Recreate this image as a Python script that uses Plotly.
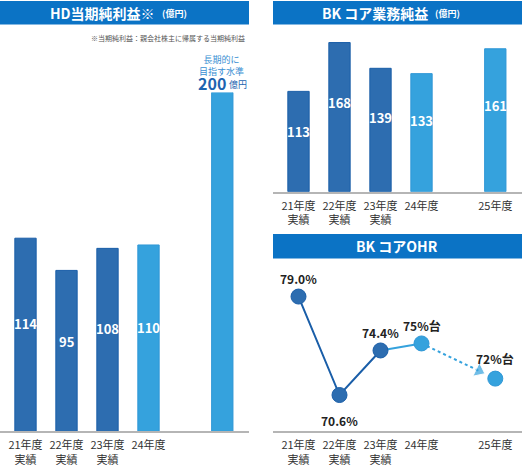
import plotly.graph_objects as go

# HD net income (100M yen)
hd_labels = ["21年度<br>実績", "22年度<br>実績", "23年度<br>実績", "24年度"]
hd_values = [114, 95, 108, 110]
hd_target = 200

# BK core business net profit (100M yen)
bk_labels = ["21年度<br>実績", "22年度<br>実績", "23年度<br>実績", "24年度", "25年度"]
bk_values = [113, 168, 139, 133, 161]

# BK core OHR (%)
ohr_values = [79.0, 70.6, 74.4, 75.0, 72.0]
ohr_text = ["79.0%", "70.6%", "74.4%", "75%台", "72%台"]

x_pos = [0, 1, 2, 3, 4.8]

DARK = "#2d6db0"
DARK_LINE = "#1a5ea8"
LIGHT = "#35a2dd"
LIGHT_LINE = "#2f97d6"
HEAD = "#0b73c5"
FONT = "Noto Sans CJK JP"

W, H = 522, 467
def px(x): return x / W
def py(y): return 1 - y / H

fig = go.Figure()

# left: HD bars
fig.add_trace(go.Bar(
    x=x_pos, y=hd_values + [hd_target],
    width=0.52,
    marker=dict(color=[DARK, DARK, DARK, LIGHT, LIGHT],
                line=dict(color=[DARK_LINE, DARK_LINE, DARK_LINE, LIGHT_LINE, LIGHT_LINE], width=1)),
    xaxis="x", yaxis="y", hoverinfo="skip",
))

# right top: BK bars
fig.add_trace(go.Bar(
    x=x_pos, y=bk_values,
    width=0.52,
    marker=dict(color=[DARK, DARK, DARK, LIGHT, LIGHT],
                line=dict(color=[DARK_LINE, DARK_LINE, DARK_LINE, LIGHT_LINE, LIGHT_LINE], width=1)),
    xaxis="x2", yaxis="y2", hoverinfo="skip",
))

# right bottom: OHR lines
fig.add_trace(go.Scatter(x=x_pos[:3], y=ohr_values[:3], mode="lines",
                         line=dict(color=DARK_LINE, width=2), xaxis="x3", yaxis="y3"))
fig.add_trace(go.Scatter(x=x_pos[2:4], y=ohr_values[2:4], mode="lines",
                         line=dict(color=LIGHT, width=2), xaxis="x3", yaxis="y3"))
# dotted arrow from 24 towards 25 (stops short of the point)
t = 0.78
ax_end = x_pos[3] + t * (x_pos[4] - x_pos[3])
ay_end = ohr_values[3] + t * (ohr_values[4] - ohr_values[3])
fig.add_trace(go.Scatter(x=[x_pos[3], ax_end], y=[ohr_values[3], ay_end], mode="lines+markers",
                         line=dict(color=LIGHT, width=2, dash="dot"),
                         marker=dict(symbol="triangle-up", size=[0, 13], color=LIGHT, angleref="previous"),
                         xaxis="x3", yaxis="y3"))
fig.add_trace(go.Scatter(x=x_pos, y=ohr_values, mode="markers",
                         marker=dict(size=15, color=[DARK, DARK, DARK, LIGHT, LIGHT],
                                     line=dict(color=[DARK_LINE, DARK_LINE, DARK_LINE, LIGHT_LINE, LIGHT_LINE], width=1)),
                         xaxis="x3", yaxis="y3", cliponaxis=False))

xr = [-25.5 / 41, (249 - 25.5) / 41]
xcommon = dict(range=xr, showgrid=False, zeroline=False, showline=True,
               linecolor="#b5b5b5", linewidth=1.5, ticks="", fixedrange=True,
               ticklabelstandoff=3,
               tickfont=dict(family=FONT, size=11, color="#333"))
ycommon = dict(visible=False, fixedrange=True)

fig.update_layout(
    width=W, height=H, margin=dict(l=0, r=0, t=0, b=0),
    paper_bgcolor="white", plot_bgcolor="rgba(0,0,0,0)", showlegend=False,
    font=dict(family=FONT),
    xaxis=dict(xcommon, domain=[0, px(249)], anchor="y",
               tickvals=x_pos[:4], ticktext=hd_labels),
    yaxis=dict(ycommon, domain=[py(439), py(94)], range=[0, 200], anchor="x"),
    xaxis2=dict(xcommon, domain=[px(273), 1], anchor="y2",
                tickvals=x_pos, ticktext=bk_labels),
    yaxis2=dict(ycommon, domain=[py(195), py(41.5)], range=[0, 170], anchor="x2"),
    xaxis3=dict(xcommon, domain=[px(273), 1], anchor="y3",
                tickvals=x_pos, ticktext=bk_labels),
    yaxis3=dict(ycommon, domain=[py(439), py(270)], range=[67.49, 81.66], anchor="x3"),
)

# header bars
for x0, x1, y0, y1 in [(0, 249, 1, 25), (273, 522, 1, 25), (273, 522, 238, 263)]:
    fig.add_shape(type="rect", xref="paper", yref="paper",
                  x0=px(x0), x1=px(x1), y0=py(y1), y1=py(y0),
                  fillcolor=HEAD, line=dict(width=0), layer="above")

def note(x, y, txt, size, color, xanchor="center", bold=False):
    if bold:
        txt = f"<b>{txt}</b>"
    fig.add_annotation(x=px(x), y=py(y), xref="paper", yref="paper", text=txt,
                       xanchor=xanchor, yanchor="middle", showarrow=False,
                       font=dict(family=FONT, size=size, color=color))

# header titles
note(157, 13, "HD当期純利益※", 14, "white", "right", True)
note(160, 14, "(億円)", 9, "white", "left", True)
note(430, 13, "BK コア業務純益", 14, "white", "right", True)
note(433, 14, "(億円)", 9, "white", "left", True)
note(397, 250.5, "BK コアOHR", 14, "white", "center", True)

note(247, 39, "※当期純利益：親会社株主に帰属する当期純利益", 7, "#555", "right")

# target label above 200 bar
note(221, 66.5, "長期的に<br>目指す水準", 9, "#3a8fd3")
note(228, 84, "200", 16, "#1d64b0", "right", True)
note(227, 86, "億円", 9, "#1d64b0", "left")

# values inside bars
for x, v in zip(x_pos, hd_values):
    fig.add_annotation(x=x, y=v * 0.56, xref="x", yref="y", text=f"<b>{v}</b>",
                       showarrow=False, font=dict(family=FONT, size=13, color="white"))
for x, v in zip(x_pos, bk_values):
    fig.add_annotation(x=x, y=v * 0.6, xref="x2", yref="y2", text=f"<b>{v}</b>",
                       showarrow=False, font=dict(family=FONT, size=13, color="white"))

# OHR labels
shifts = [18, -25, 18, 18, 20]
for x, v, txt, s in zip(x_pos, ohr_values, ohr_text, shifts):
    fig.add_annotation(x=x, y=v, xref="x3", yref="y3", text=f"<b>{txt}</b>", yshift=s,
                       showarrow=False, font=dict(family=FONT, size=12, color="#222"))

fig.write_html("out.html", config={"displayModeBar": False},
               post_script="document.body.style.margin='0';")
